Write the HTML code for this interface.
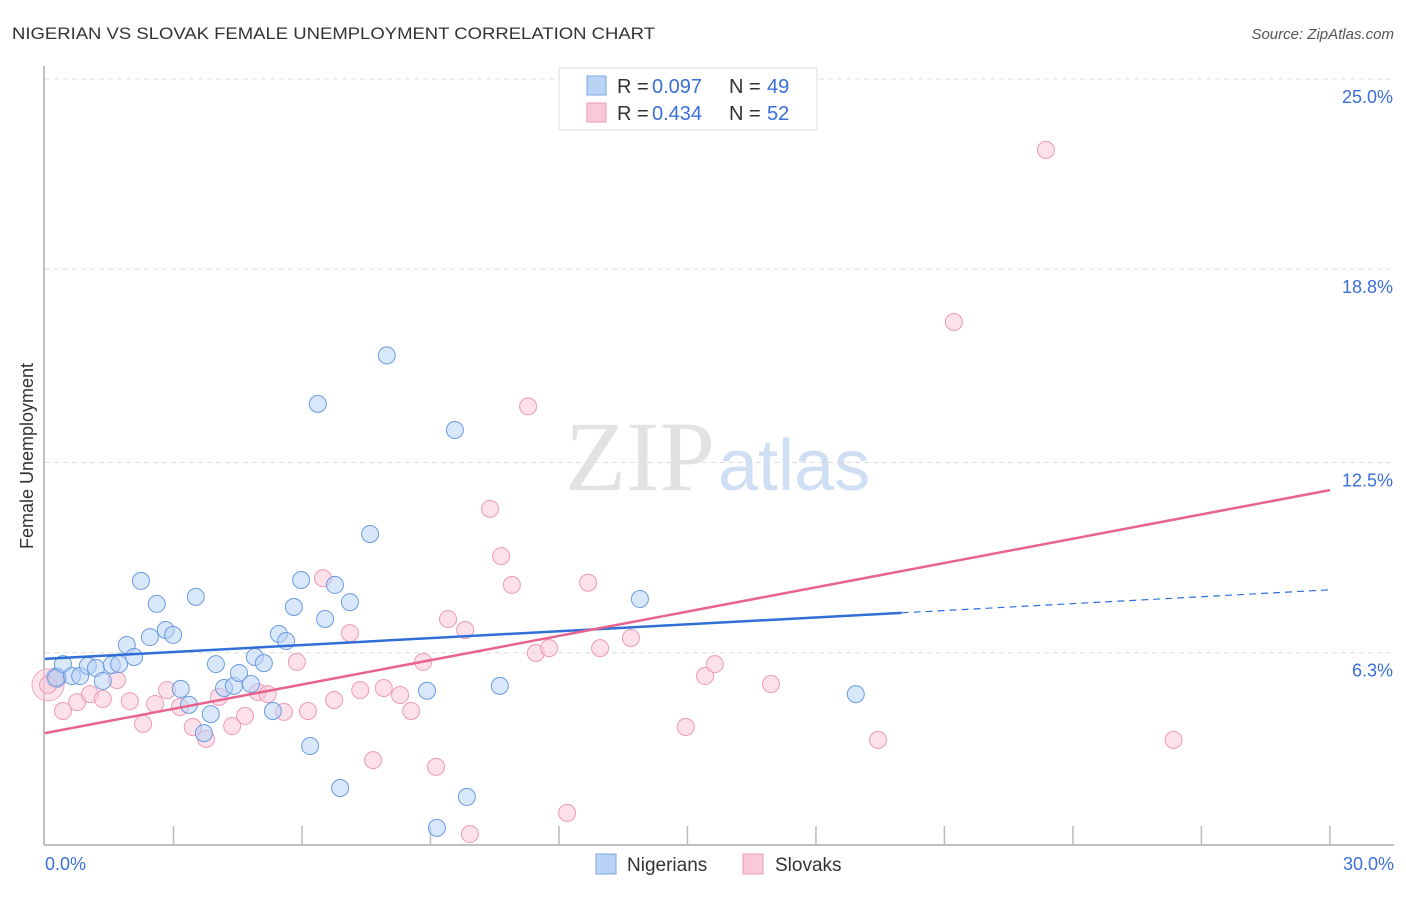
<!DOCTYPE html>
<html><head><meta charset="utf-8"><style>
body{margin:0;background:#fff;font-family:"Liberation Sans",sans-serif;}
</style></head><body>
<svg width="1406" height="892" xmlns="http://www.w3.org/2000/svg">
<text x="12" y="39" font-size="17" fill="#333" textLength="643" lengthAdjust="spacingAndGlyphs">NIGERIAN VS SLOVAK FEMALE UNEMPLOYMENT CORRELATION CHART</text>
<text x="1394" y="39" font-size="15" fill="#555" font-style="italic" text-anchor="end">Source: ZipAtlas.com</text>
<text x="715" y="490" font-size="100" fill="#e2e2e2" font-family="Liberation Serif,serif" text-anchor="end">ZIP</text>
<text x="718" y="490" font-size="72" fill="#cfdff3">atlas</text>
<g id="grid"></g>
<line x1="44" y1="66" x2="44" y2="845" stroke="#aaa" stroke-width="1.5"/>
<line x1="44" y1="845" x2="1394" y2="845" stroke="#aaa" stroke-width="1.5"/>
<g id="ticks"></g>
<text x="45" y="870" font-size="18" fill="#3a6fd8">0.0%</text>
<text x="1394" y="870" font-size="18" fill="#3a6fd8" text-anchor="end">30.0%</text>
<text transform="translate(33,456) rotate(-90)" font-size="18" fill="#333" text-anchor="middle">Female Unemployment</text>
<g id="pts"></g>
<g id="lines"></g>
<g>
<rect x="559" y="68" width="258" height="62" fill="#fff" stroke="#ddd"/>
<rect x="587" y="76" width="19" height="19" fill="#b9d3f5" stroke="#7aa7e3"/>
<rect x="587" y="103" width="19" height="19" fill="#f9c9d8" stroke="#ee9ab5"/>
<text x="617" y="93" font-size="20" fill="#333">R =</text>
<text x="652" y="93" font-size="20" fill="#3a6fd8">0.097</text>
<text x="729" y="93" font-size="20" fill="#333">N =</text>
<text x="767" y="93" font-size="20" fill="#3a6fd8">49</text>
<text x="617" y="120" font-size="20" fill="#333">R =</text>
<text x="652" y="120" font-size="20" fill="#3a6fd8">0.434</text>
<text x="729" y="120" font-size="20" fill="#333">N =</text>
<text x="767" y="120" font-size="20" fill="#3a6fd8">52</text>
</g>
<g>
<rect x="596" y="854" width="20" height="20" fill="#b9d3f5" stroke="#7aa7e3"/>
<text x="627" y="871" font-size="19" fill="#333">Nigerians</text>
<rect x="743" y="854" width="20" height="20" fill="#f9c9d8" stroke="#ee9ab5"/>
<text x="775" y="871" font-size="19" fill="#333">Slovaks</text>
</g>
</svg>
<script>
const yTicks=[6.3,12.5,18.8,25.0];
const yTickLabels=["6.3%","12.5%","18.8%","25.0%"];
const nigX=[0.26,0.42,0.63,0.82,1.0,1.19,1.35,1.56,1.73,1.91,2.08,2.24,2.45,2.61,2.82,2.99,3.17,3.36,3.52,3.71,3.87,3.99,4.18,4.41,4.53,4.81,4.9,5.11,5.32,5.46,5.63,5.81,5.98,6.19,6.37,6.54,6.77,6.89,7.12,7.59,7.98,8.92,9.15,9.57,9.85,10.62,13.89,18.93];
const nigY=[5.48,5.93,5.54,5.54,5.87,5.8,5.38,5.9,5.93,6.55,6.16,8.64,6.81,7.89,7.04,6.88,5.12,4.6,8.12,3.68,4.3,5.93,5.15,5.22,5.64,5.28,6.16,5.96,4.4,6.91,6.68,7.79,8.67,3.26,14.41,7.4,8.51,1.89,7.95,10.17,15.99,5.06,0.59,13.56,1.60,5.22,8.05,4.95];
const sloX=[0.07,0.42,0.75,1.05,1.35,1.68,1.98,2.29,2.57,2.85,3.15,3.45,3.76,4.06,4.37,4.67,4.97,5.2,5.58,5.88,6.14,6.49,6.75,7.12,7.36,7.66,7.91,8.29,8.55,8.83,9.13,9.41,9.81,9.92,10.39,10.65,10.9,11.28,11.46,11.77,12.19,12.68,12.96,13.68,14.96,15.41,15.64,16.95,19.45,21.22,23.37,26.35];
const sloY=[5.25,4.4,4.69,4.95,4.79,5.41,4.72,3.98,4.63,5.08,4.53,3.88,3.49,4.86,3.91,4.24,5.02,4.95,4.37,6.0,4.4,8.73,4.76,6.94,5.08,2.80,5.15,4.92,4.4,6.0,2.58,7.4,7.04,0.39,10.99,9.45,8.51,14.33,6.29,6.45,1.08,8.58,6.45,6.78,3.88,5.54,5.93,5.28,3.46,17.08,22.69,3.46];
const nigLine=[6.1,7.6];const nigLineEnd=[20,30];
const sloLine=[3.68,11.6];
const X=v=>45+v*42.83, Y=v=>846-v*30.68;
const NS="http://www.w3.org/2000/svg";
function mk(p,t,a){const e=document.createElementNS(NS,t);for(const k in a)e.setAttribute(k,a[k]);document.getElementById(p).appendChild(e);return e;}
yTicks.forEach((t,i)=>{
 const l=mk('grid','line',{x1:45,x2:1394,y1:Y(t),y2:Y(t),stroke:'#ddd','stroke-dasharray':'5,4'});
 
 
 const tx=mk('grid','text',{x:1393,y:Y(t)+24,'font-size':18,fill:'#3a6fd8','text-anchor':'end'});
 tx.textContent=yTickLabels[i];
 
 
});
mk('grid','line',{x1:45,x2:1394,y1:79,y2:79,stroke:'#ddd','stroke-dasharray':'5,4'});
for(let i=1;i<=10;i++){const l=mk('ticks','line',{x1:X(i*3),x2:X(i*3),y1:826,y2:845,stroke:'#bbb','stroke-width':1.5});
 
 }
const b1=mk('pts','circle',{cx:X(0.26),cy:Y(5.48),r:10,fill:'#7f9fd9','fill-opacity':0.5,stroke:'#5f8fd8'});
const p1=mk('pts','circle',{cx:X(0.07),cy:Y(5.25),r:16,fill:'#f9c9d8','fill-opacity':0.5,stroke:'#eeaac0'});
sloX.forEach((x,i)=>{const c=mk('pts','circle',{cx:X(x),cy:Y(sloY[i]),r:8.5,fill:'#f9c9d8','fill-opacity':0.55,stroke:'#ee9ab5','stroke-width':1});
 
 });
nigX.forEach((x,i)=>{const c=mk('pts','circle',{cx:X(x),cy:Y(nigY[i]),r:8.5,fill:'#b9d3f5','fill-opacity':0.55,stroke:'#6a9be0','stroke-width':1});
 
 });
const nl=mk('lines','line',{x1:X(0),y1:Y(nigLine[0]),x2:X(nigLineEnd[0]),y2:Y(nigLine[1]),stroke:'#2f6fd6','stroke-width':2.5});


const slope=(nigLine[1]-nigLine[0])/nigLineEnd[0];
const nd=mk('lines','line',{x1:X(nigLineEnd[0]),y1:Y(nigLine[1]),x2:X(nigLineEnd[1]),y2:Y(nigLine[0]+slope*nigLineEnd[1]),stroke:'#2f6fd6','stroke-width':1.2,'stroke-dasharray':'7,5'});


const sl=mk('lines','line',{x1:X(0),y1:Y(sloLine[0]),x2:X(30),y2:Y(sloLine[1]),stroke:'#e8638f','stroke-width':2.5});


</script>
</body></html>
